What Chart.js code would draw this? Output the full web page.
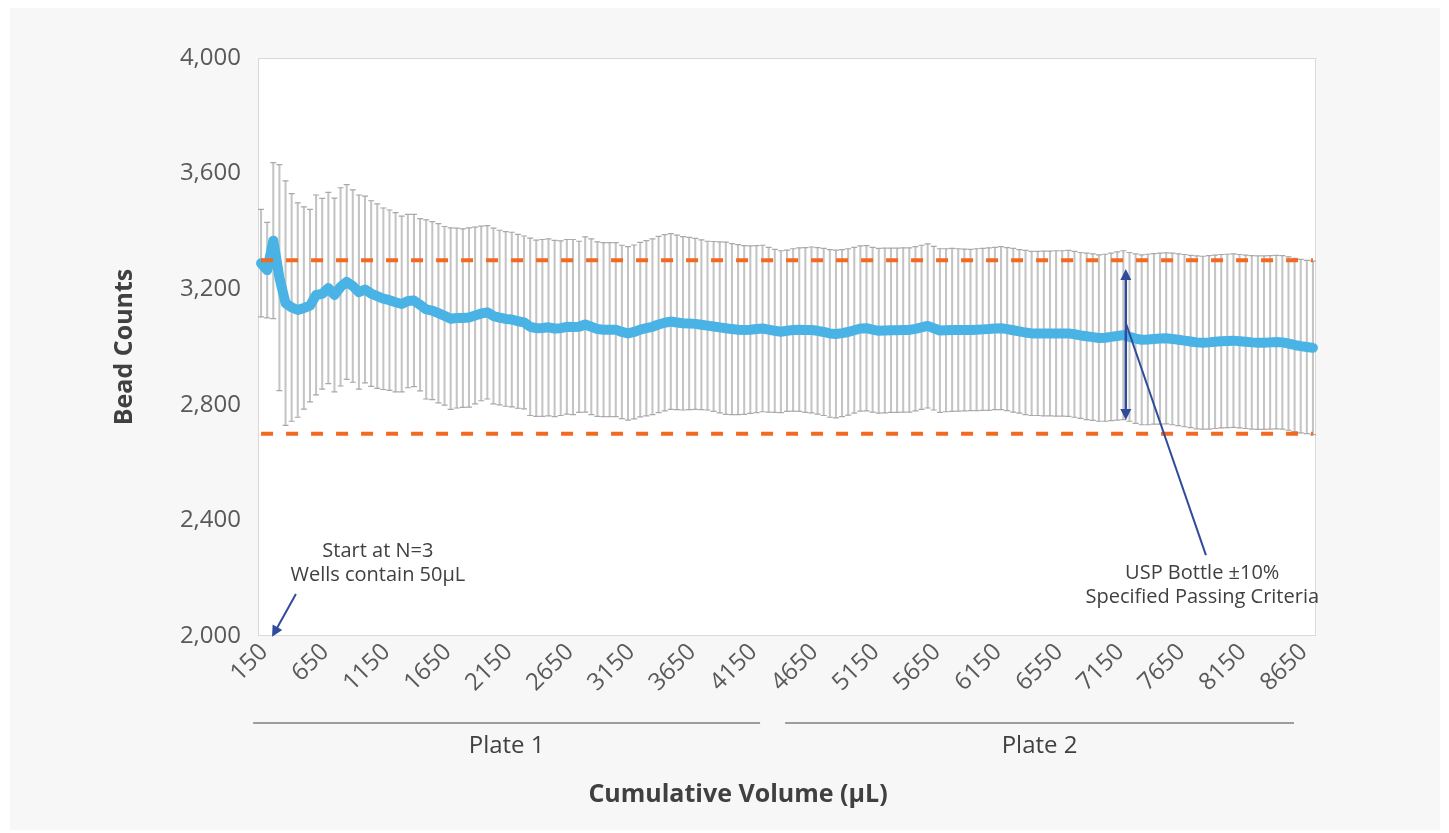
<!DOCTYPE html>
<html>
<head>
<meta charset="utf-8">
<script src="https://cdn.jsdelivr.net/npm/chart.js@4.4.1/dist/chart.umd.min.js"></script>
<style>
  html, body { margin: 0; padding: 0; background: #ffffff; }
  #wrap { width: 1449px; height: 833px; }
</style>
</head>
<body>
<div id="wrap"><canvas id="chart" width="1449" height="833"></canvas></div>
<script>
// Running mean bead count per cumulative volume step (one entry per well read)
const meanCounts = [
  3290, 3266, 3368, 3240, 3152, 3137, 3128, 3135, 3143, 3180,
  3184, 3204, 3180, 3208, 3225, 3211, 3190, 3199, 3185, 3176,
  3167, 3162, 3155, 3149, 3159, 3161, 3146, 3130, 3126, 3117,
  3108, 3098, 3100, 3100, 3102, 3109, 3116, 3120, 3107, 3102,
  3097, 3095, 3089, 3085, 3070, 3065, 3066, 3068, 3064, 3065,
  3070, 3069, 3070, 3078, 3070, 3062, 3060, 3060, 3060, 3052,
  3047, 3052, 3060, 3065, 3070, 3078, 3084, 3088, 3085, 3082,
  3081, 3080, 3077, 3074, 3071, 3068, 3065, 3062, 3060, 3059,
  3060, 3062, 3064, 3060, 3056, 3053, 3056, 3059, 3060, 3059,
  3059, 3056, 3052, 3047, 3045, 3048, 3052, 3058, 3064, 3065,
  3060, 3056, 3057, 3058, 3058, 3059, 3059, 3063, 3068, 3073,
  3065, 3057, 3058, 3059, 3059, 3059, 3059, 3060, 3061, 3062,
  3064, 3065, 3062, 3058, 3054, 3050, 3047, 3047, 3047, 3047,
  3047, 3047, 3047, 3044, 3040, 3037, 3034, 3031, 3032, 3035,
  3038, 3041, 3035, 3029, 3025, 3026, 3028, 3029, 3030, 3028,
  3025, 3022, 3019, 3016, 3015, 3016, 3018, 3020, 3021, 3022,
  3020, 3018, 3016, 3015, 3015, 3016, 3017, 3016, 3012, 3007,
  3003, 3000, 2997
];

// Standard deviation of the running count at each step
const sdCounts = [
  186, 165, 270, 391, 423, 394, 371, 350, 333, 346,
  330, 331, 335, 343, 337, 333, 336, 323, 321, 319,
  314, 312, 310, 304, 300, 298, 298, 310, 308, 310,
  309, 314, 311, 309, 310, 306, 302, 300, 304, 302,
  302, 302, 301, 299, 307, 305, 306, 306, 305, 302,
  302, 303, 296, 303, 304, 302, 301, 301, 301, 300,
  300, 301, 302, 303, 304, 305, 305, 304, 302, 300,
  298, 296, 294, 292, 294, 296, 298, 296, 294, 292,
  290, 289, 288, 285, 282, 280, 279, 281, 283, 285,
  287, 288, 289, 290, 290, 289, 288, 287, 286, 286,
  285, 285, 285, 284, 284, 284, 284, 284, 284, 284,
  283, 283, 282, 282, 281, 280, 279, 280, 280, 281,
  281, 282, 282, 283, 283, 284, 284, 284, 285, 285,
  286, 286, 287, 287, 287, 288, 288, 288, 289, 290,
  291, 292, 292, 293, 294, 295, 295, 296, 296, 297,
  297, 298, 298, 299, 299, 300, 300, 300, 300, 300,
  300, 300, 300, 300, 300, 300, 300, 300, 300, 300,
  300, 300, 300
];

// Cumulative volume labels (µL) and the step each label belongs to
const volumeLabels = ['150', '650', '1150', '1650', '2150', '2650', '3150', '3650', '4150',
                      '4650', '5150', '5650', '6150', '6550', '7150', '7650', '8150', '8650'];
const labelStep = [0, 10, 20, 30, 40, 50, 60, 70, 80, 90, 100, 110, 120, 130, 140, 150, 160, 170];

// USP bottle specification: ±10 % around the nominal count
const upperLimit = 3300;
const lowerLimit = 2700;

// y-axis ticks
const yTicks = [2000, 2400, 2800, 3200, 3600, 4000];

// ---- tables built from the arrays above ----
const steps = meanCounts.map((_, i) => String(i));
const tickText = steps.map((_, i) => {
  const k = labelStep.indexOf(i);
  return k >= 0 ? volumeLabels[k] : '';
});
const whiskers = meanCounts.map((m, i) => [m - sdCounts[i], m + sdCounts[i]]);
const capsHigh = meanCounts.map((m, i) => m + sdCounts[i]);
const capsLow = meanCounts.map((m, i) => m - sdCounts[i]);
const upperLine = meanCounts.map(() => upperLimit);
const lowerLine = meanCounts.map(() => lowerLimit);

const FONT = "'Open Sans', 'Noto Sans', sans-serif";
const NOTE_BLUE = '#2F4B9B';

function arrowHead(ctx, x1, y1, x2, y2, len, half) {
  const a = Math.atan2(y2 - y1, x2 - x1);
  const c = Math.cos(a), s = Math.sin(a);
  ctx.beginPath();
  ctx.moveTo(x2, y2);
  ctx.lineTo(x2 - len * c + half * s, y2 - len * s - half * c);
  ctx.lineTo(x2 - len * c - half * s, y2 - len * s + half * c);
  ctx.closePath();
  ctx.fill();
}

const backdrop = {
  id: 'backdrop',
  beforeDraw(chart) {
    const { ctx, chartArea: a } = chart;
    ctx.save();
    ctx.fillStyle = '#ffffff';
    ctx.fillRect(0, 0, chart.width, chart.height);
    ctx.fillStyle = '#f7f7f7';
    ctx.fillRect(10, 8, 1430, 822);
    ctx.fillStyle = '#ffffff';
    ctx.fillRect(a.left, a.top, a.right - a.left, a.bottom - a.top);
    ctx.strokeStyle = '#d9d9d9';
    ctx.lineWidth = 1;
    ctx.strokeRect(a.left + 0.5, a.top + 0.5, a.right - a.left - 1, a.bottom - a.top - 1);
    ctx.restore();
  }
};

const notes = {
  id: 'notes',
  afterDatasetsDraw(chart, args, opts) {
    const { ctx, scales: { x, y }, chartArea: a } = chart;
    const px = v => x.getPixelForValue(v);
    const py = v => y.getPixelForValue(v);
    ctx.save();
    ctx.strokeStyle = NOTE_BLUE;
    ctx.fillStyle = NOTE_BLUE;
    ctx.lineWidth = 2;

    // start-of-run pointer
    const s = opts.startArrow;
    const sx1 = px(s.from[0]), sy1 = py(s.from[1]), sx2 = px(s.to[0]), sy2 = py(s.to[1]);
    ctx.beginPath(); ctx.moveTo(sx1, sy1); ctx.lineTo(sx2 + (sx1 - sx2) * 0.15, sy2 + (sy1 - sy2) * 0.15); ctx.stroke();
    arrowHead(ctx, sx1, sy1, sx2, sy2, 11, 5.5);

    // specification span (double-headed)
    const d = opts.specArrow;
    const dx = px(d.step), dTop = py(d.top), dBot = py(d.bottom);
    ctx.lineWidth = 2.5;
    ctx.beginPath(); ctx.moveTo(dx, dTop + 8); ctx.lineTo(dx, dBot - 8); ctx.stroke();
    arrowHead(ctx, dx, dBot, dx, dTop, 11, 5.5);
    arrowHead(ctx, dx, dTop, dx, dBot, 11, 5.5);

    // callout leader
    const c = opts.callout;
    ctx.lineWidth = 2;
    ctx.beginPath(); ctx.moveTo(px(c.from[0]), py(c.from[1])); ctx.lineTo(px(c.to[0]), py(c.to[1])); ctx.stroke();

    // note texts
    ctx.fillStyle = '#404040';
    ctx.font = `20px ${FONT}`;
    ctx.textAlign = 'center';
    ctx.textBaseline = 'middle';
    opts.texts.forEach(t => {
      const tx = px(t.at[0]), ty = py(t.at[1]);
      t.lines.forEach((line, i) => ctx.fillText(line, tx, ty + i * 24));
    });

    // plate brackets under the axis
    ctx.font = `24px ${FONT}`;
    opts.plates.forEach(p => {
      const x1 = px(p.span[0]), x2 = px(p.span[1]);
      ctx.strokeStyle = '#7f7f7f';
      ctx.lineWidth = 1.5;
      ctx.beginPath(); ctx.moveTo(x1, a.bottom + 87); ctx.lineTo(x2, a.bottom + 87); ctx.stroke();
      ctx.fillStyle = '#404040';
      ctx.fillText(p.label, (x1 + x2) / 2, a.bottom + 110);
    });

    // x-axis title, centred under the whole figure
    ctx.font = `bold 25px ${FONT}`;
    ctx.fillStyle = '#404040';
    ctx.fillText(opts.xTitle, opts.xTitleCenter, a.bottom + 159);
    ctx.restore();
  }
};

new Chart(document.getElementById('chart'), {
  type: 'bar',
  data: {
    labels: steps,
    datasets: [
      {
        type: 'line', label: 'Upper limit', data: upperLine, order: 0,
        borderColor: '#F26A22', borderWidth: 4, borderDash: [12, 13],
        pointRadius: 0, fill: false
      },
      {
        type: 'line', label: 'Lower limit', data: lowerLine, order: 0,
        borderColor: '#F26A22', borderWidth: 4, borderDash: [12, 13],
        pointRadius: 0, fill: false
      },
      {
        type: 'line', label: 'Mean bead count', data: meanCounts, order: 1,
        borderColor: '#49B3E6', borderWidth: 10, borderJoinStyle: 'round', borderCapStyle: 'round',
        pointRadius: 0, tension: 0, fill: false
      },
      {
        type: 'line', label: '+SD', data: capsHigh, order: 2, showLine: false,
        pointStyle: 'line', pointRadius: 3, pointBorderColor: '#a9a9a9', pointBorderWidth: 1.2
      },
      {
        type: 'line', label: '-SD', data: capsLow, order: 2, showLine: false,
        pointStyle: 'line', pointRadius: 3, pointBorderColor: '#a9a9a9', pointBorderWidth: 1.2
      },
      {
        type: 'bar', label: 'SD range', data: whiskers, order: 3,
        backgroundColor: '#c4c4c4', borderWidth: 0, barThickness: 1.4
      }
    ]
  },
  options: {
    responsive: false,
    animation: false,
    events: [],
    layout: { padding: { left: 10, top: 58, right: 133, bottom: 10 } },
    plugins: {
      legend: { display: false },
      tooltip: { enabled: false },
      notes: {
        startArrow: { from: [5.7, 2145], to: [1.8, 1997] },
        specArrow: { step: 141.4, top: 3270, bottom: 2747 },
        callout: { from: [141.4, 3083], to: [154.5, 2280] },
        texts: [
          { at: [19.1, 2294], lines: ['Start at N=3', 'Wells contain 50µL'] },
          { at: [153.9, 2217], lines: ['USP Bottle ±10%', 'Specified Passing Criteria'] }
        ],
        plates: [
          { label: 'Plate 1', span: [-1.3, 81.6] },
          { label: 'Plate 2', span: [85.7, 168.9] }
        ],
        xTitle: 'Cumulative Volume (µL)',
        xTitleCenter: 738
      }
    },
    scales: {
      x: {
        offset: true,
        grid: { display: false, drawTicks: false },
        border: { display: false },
        ticks: {
          autoSkip: false, minRotation: 45, maxRotation: 45, padding: 2, labelOffset: 3,
          color: '#595959', font: { family: FONT, size: 24 },
          callback: (v, i) => tickText[i]
        },
        afterFit(s) { s.height = 187; }
      },
      y: {
        min: 2000, max: 4000,
        grid: { display: false, drawTicks: false },
        border: { display: false },
        afterBuildTicks(s) { s.ticks = yTicks.map(v => ({ value: v })); },
        ticks: { padding: 17, color: '#595959', font: { family: FONT, size: 24 } },
        title: {
          display: true, text: 'Bead Counts', color: '#404040',
          font: { family: FONT, size: 25, weight: 'bold' }, padding: { top: 100, bottom: 0 }
        },
        afterFit(s) { s.width = 248; }
      }
    }
  },
  plugins: [backdrop, notes]
});
</script>
</body>
</html>
